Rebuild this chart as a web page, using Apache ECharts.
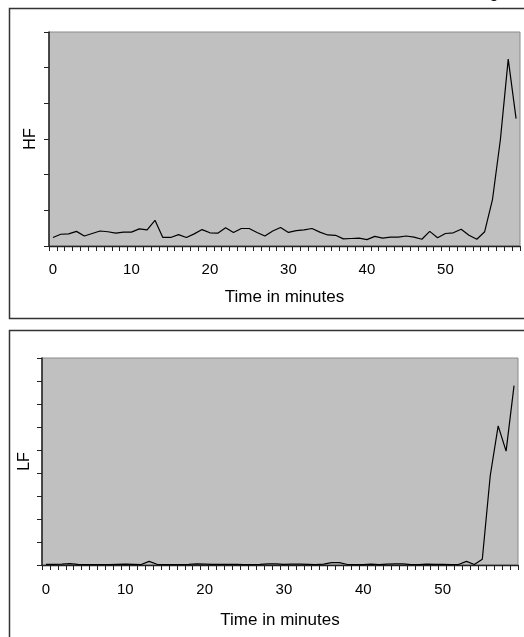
<!DOCTYPE html>
<html>
<head>
<meta charset="utf-8">
<script src="https://cdn.jsdelivr.net/npm/echarts@6/dist/echarts.min.js"></script>
<style>
  html, body { margin: 0; padding: 0; background: #fff; }
  #app { width: 524px; height: 637px; }
</style>
</head>
<body>
<div id="app"></div>
<script>
// minutes 0..59
const minutes = ['0','1','2','3','4','5','6','7','8','9','10','11','12','13','14','15','16','17','18','19',
  '20','21','22','23','24','25','26','27','28','29','30','31','32','33','34','35','36','37','38','39',
  '40','41','42','43','44','45','46','47','48','49','50','51','52','53','54','55','56','57','58','59'];

// HF power (arbitrary units, no tick labels on the original)
const hfValues = [2.4, 3.3, 3.4, 4.1, 2.8, 3.5, 4.2, 4.0, 3.6, 3.9,
  3.9, 4.8, 4.5, 7.2, 2.4, 2.4, 3.2, 2.4, 3.4, 4.6,
  3.7, 3.6, 5.1, 3.8, 4.9, 4.9, 3.8, 2.8, 4.2, 5.2,
  3.8, 4.3, 4.5, 4.9, 3.9, 3.1, 3.0, 2.0, 2.1, 2.2,
  1.8, 2.7, 2.2, 2.5, 2.5, 2.8, 2.5, 1.9, 4.1, 2.3,
  3.5, 3.7, 4.7, 3.0, 1.9, 4.0, 13.1, 29.8, 52.4, 35.7];

// LF power
const lfValues = [0.3, 0.3, 0.4, 0.6, 0.3, 0.2, 0.2, 0.2, 0.2, 0.3,
  0.4, 0.3, 0.2, 1.6, 0.3, 0.2, 0.2, 0.2, 0.3, 0.5,
  0.4, 0.3, 0.3, 0.3, 0.3, 0.2, 0.2, 0.3, 0.5, 0.5,
  0.3, 0.4, 0.4, 0.3, 0.2, 0.4, 1.0, 1.0, 0.2, 0.2,
  0.2, 0.4, 0.2, 0.4, 0.5, 0.5, 0.2, 0.2, 0.4, 0.3,
  0.3, 0.2, 0.2, 1.6, 0.2, 2.5, 38.8, 60.5, 49.5, 78.0];

const hfMax = 60, lfMax = 90;

const font = "'Liberation Sans', Arial, sans-serif";
const axisCol = '#222';

function xAxis(gridIndex, margin, nameGap) {
  return {
    type: 'category',
    gridIndex: gridIndex,
    data: minutes,
    boundaryGap: true,
    name: 'Time in minutes',
    nameLocation: 'middle',
    nameGap: nameGap,
    nameTextStyle: { fontFamily: font, fontSize: 17, color: '#000' },
    axisLine: { lineStyle: { color: axisCol, width: 1.3 } },
    axisTick: { show: true, interval: 0, length: 5, lineStyle: { color: axisCol } },
    axisLabel: { interval: 9, margin: margin, fontFamily: font, fontSize: 15, color: '#000' },
    splitLine: { show: false }
  };
}

function yAxis(gridIndex, name, max, nameGap) {
  return {
    type: 'value',
    gridIndex: gridIndex,
    min: 0,
    max: max,
    interval: 10,
    name: name,
    nameLocation: 'middle',
    nameGap: nameGap,
    nameTextStyle: { fontFamily: font, fontSize: 16, color: '#000' },
    axisLine: { show: true, lineStyle: { color: axisCol, width: 1.5 } },
    axisTick: { show: true, length: 5, lineStyle: { color: axisCol } },
    axisLabel: { show: false },
    splitLine: { show: false }
  };
}

const chart = echarts.init(document.getElementById('app'), null, { renderer: 'canvas' });

const option = {
  animation: false,
  backgroundColor: '#fff',
  graphic: [
    // panel frames
    { type: 'rect', shape: { x: 9.5, y: 8.5, width: 530, height: 310 },
      style: { fill: 'none', stroke: '#333', lineWidth: 1.5 }, z: 0 },
    { type: 'rect', shape: { x: 9.5, y: 330.5, width: 530, height: 330 },
      style: { fill: 'none', stroke: '#333', lineWidth: 1.5 }, z: 0 },
    // cut-off caption letter at the top edge
    { type: 'text', x: 489, y: 1,
      style: { text: 'g', font: "18px 'Liberation Sans', Arial", fill: '#000', textVerticalAlign: 'bottom' } }
  ],
  grid: [
    { left: 49, top: 32, width: 471, height: 214, show: true,
      backgroundColor: '#c0c0c0', borderColor: '#8a8a8a', borderWidth: 1 },
    { left: 42, top: 358, width: 476, height: 207, show: true,
      backgroundColor: '#c0c0c0', borderColor: '#8a8a8a', borderWidth: 1 }
  ],
  xAxis: [xAxis(0, 16, 43), xAxis(1, 17, 47)],
  yAxis: [yAxis(0, 'HF', hfMax, 10), yAxis(1, 'LF', lfMax, 9)],
  series: [
    { type: 'line', xAxisIndex: 0, yAxisIndex: 0, data: hfValues, showSymbol: false,
      lineStyle: { color: '#000', width: 1.2 }, silent: true },
    { type: 'line', xAxisIndex: 1, yAxisIndex: 1, data: lfValues, showSymbol: false,
      lineStyle: { color: '#000', width: 1.2 }, silent: true }
  ]
};

chart.setOption(option);
</script>
</body>
</html>
